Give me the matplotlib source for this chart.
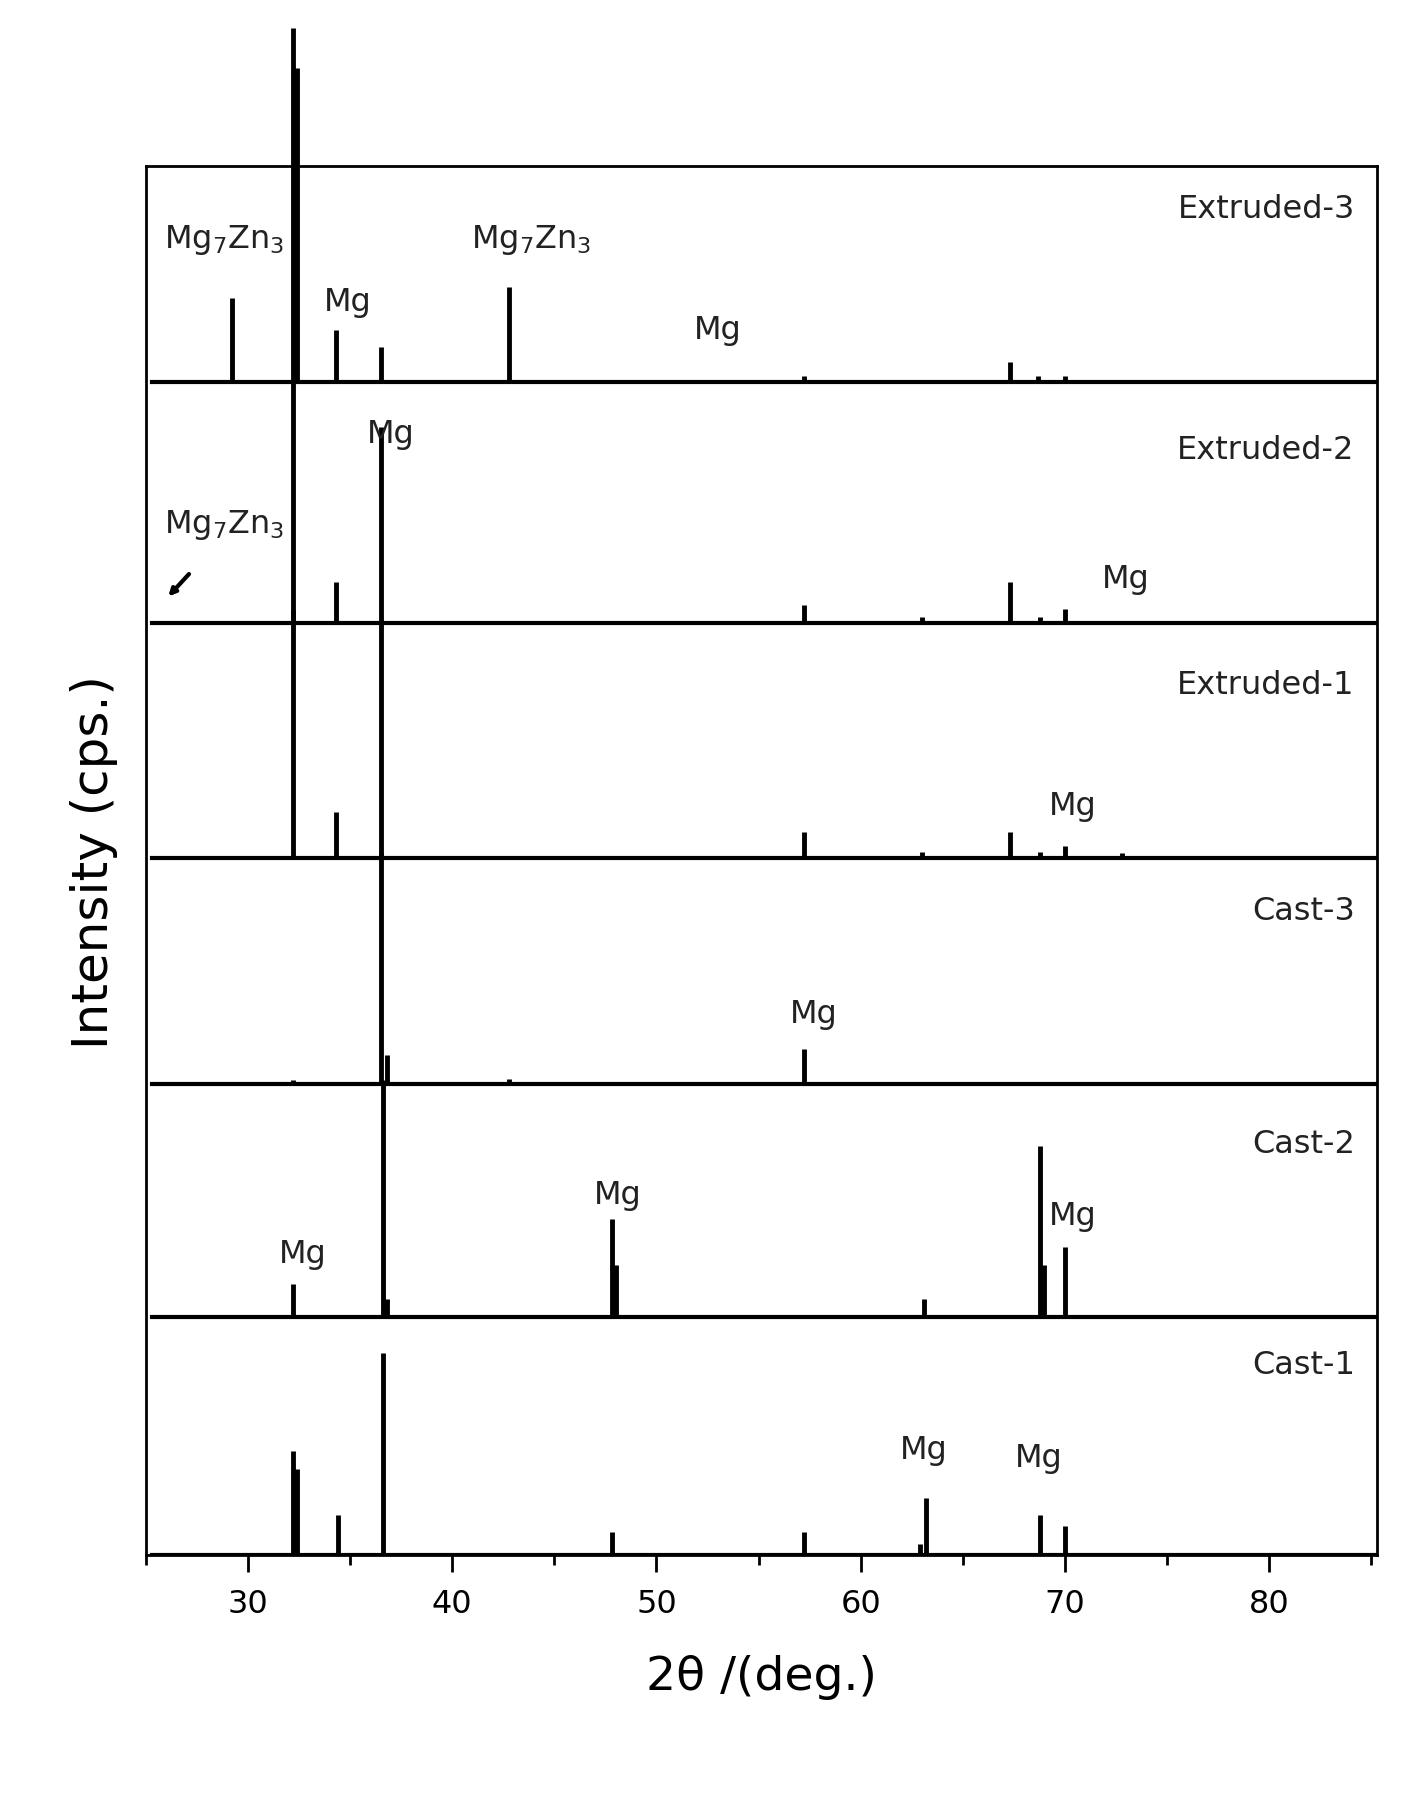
import matplotlib
matplotlib.use("Agg")
import matplotlib.pyplot as plt

samples = ["Extruded-3", "Extruded-2", "Extruded-1", "Cast-3", "Cast-2", "Cast-1"]
panel_bottoms = [332, 541, 745, 941, 1143, 1350]   # reference vertical positions
peaks = {
    "Extruded-3": ([29.2, 32.2, 32.4, 34.3, 36.5, 42.8, 57.2, 67.3, 68.7, 70.0],
                   [73, 307, 272, 45, 30, 82, 5, 17, 5, 5]),
    "Extruded-2": ([32.2, 34.3, 36.5, 57.2, 63.0, 67.3, 68.8, 70.0],
                   [211, 35, 170, 15, 5, 35, 5, 12]),
    "Extruded-1": ([32.2, 34.3, 36.5, 57.2, 63.0, 67.3, 68.8, 70.0, 72.8],
                   [215, 40, 205, 22, 5, 22, 5, 10, 4]),
    "Cast-3": ([32.2, 36.5, 36.8, 42.8, 57.2],
               [3, 200, 25, 4, 30]),
    "Cast-2": ([32.2, 36.6, 36.8, 47.8, 48.0, 63.1, 68.8, 69.0, 70.0],
               [28, 205, 15, 85, 45, 15, 148, 45, 60]),
    "Cast-1": ([32.2, 32.4, 34.4, 36.6, 47.8, 57.2, 62.9, 63.2, 68.8, 70.0],
               [90, 75, 35, 175, 20, 20, 10, 50, 35, 25]),
}
labels = [  # (x deg, y ref px, text)
    (34.9, 262, "Mg"), (53.0, 287, "Mg"), (37.0, 377, "Mg"), (73.0, 503, "Mg"),
    (70.4, 700, "Mg"), (57.7, 880, "Mg"), (48.1, 1037, "Mg"), (32.7, 1088, "Mg"),
    (70.4, 1055, "Mg"), (63.1, 1258, "Mg"), (68.7, 1265, "Mg"),
]
xticks = [30, 40, 50, 60, 70, 80]

fig = plt.figure(figsize=(14.17, 17.99), dpi=100)
ax = fig.add_axes([0.103, 0.135, 0.869, 0.772])
ax.set_xlim(25.3, 85.3)
ax.set_ylim(1350, 145)
for name, base in zip(samples, panel_bottoms):
    xs, hs = peaks[name]
    ax.vlines(xs, [base] * len(xs), [base - h for h in hs], color="black", lw=3.5, clip_on=False)
    ax.plot([25.3, 85.3], [base, base], color="black", lw=3)
    ax.text(84.2, base - (150 if base != 1350 else 165), name, ha="right", va="center", fontsize=23, color="#222222")
for x, y, t in labels:
    ax.text(x, y, t, ha="center", va="center", fontsize=23, color="#222222")
ax.text(25.9, 208, "Mg$_7$Zn$_3$", ha="left", va="center", fontsize=23, color="#222222")
ax.text(40.9, 208, "Mg$_7$Zn$_3$", ha="left", va="center", fontsize=23, color="#222222")
ax.text(25.9, 455, "Mg$_7$Zn$_3$", ha="left", va="center", fontsize=23, color="#222222")
ax.annotate("", xy=(26.0, 520), xytext=(27.2, 497),
            arrowprops=dict(arrowstyle="-|>", color="black", lw=3))
ax.set_yticks([])
ax.set_xticks(xticks)
ax.set_xticks(range(25, 86, 5), minor=True)
ax.tick_params(axis="x", which="major", length=12, width=2, labelsize=23, pad=12)
ax.tick_params(axis="x", which="minor", length=7, width=2)
for s in ax.spines.values():
    s.set_linewidth(2)
ax.set_xlabel("2θ /(deg.)", fontsize=34, labelpad=25)
ax.set_ylabel("Intensity (cps.)", fontsize=36, labelpad=20)
fig.savefig("out.png")
